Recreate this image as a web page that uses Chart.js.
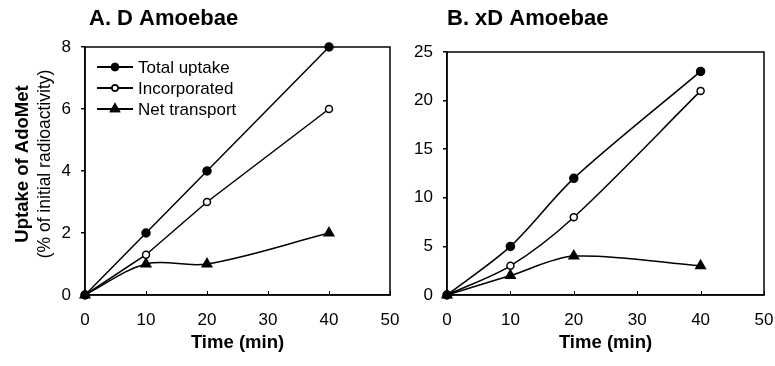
<!DOCTYPE html>
<html>
<head>
<meta charset="utf-8">
<script src="https://cdn.jsdelivr.net/npm/chart.js@4/dist/chart.umd.min.js"></script>
<style>
  body { margin: 0; background: #fff; }
  .wrap { position: relative; width: 775px; height: 366px; }
  canvas { position: absolute; top: 0; }
  #chartA { left: 0; }
  #chartB { left: 400px; }
</style>
</head>
<body>
<div class="wrap">
  <canvas id="chartA" width="410" height="366"></canvas>
  <canvas id="chartB" width="375" height="366"></canvas>
</div>
<script>
// Data
const timeMin = [0, 10, 20, 40];
const seriesNames = ['Total uptake', 'Incorporated', 'Net transport'];

const dTotal = [0, 2, 4, 8];
const dIncorporated = [0, 1.3, 3, 6];
const dNetTransport = [0, 1, 1, 2];

const xdTotal = [0, 5, 12, 23];
const xdIncorporated = [0, 3, 8, 21];
const xdNetTransport = [0, 2, 4, 3];

const FONT = "'Liberation Sans', Arial, sans-serif";

document.addEventListener('DOMContentLoaded', function() {

    function toPoints(values) {
        return timeMin.map((t, i) => ({ x: t, y: values[i] }));
    }

    // marker styles per series
    const markers = [
        { pointStyle: 'circle', radius: 4, bg: '#000' },
        { pointStyle: 'circle', radius: 3.5, bg: '#fff' },
        { pointStyle: 'triangle', radius: 5.5, bg: '#000' }
    ];

    function makeDataset(i, values, tension) {
        return {
            label: seriesNames[i],
            data: toPoints(values),
            borderColor: '#000',
            borderWidth: 1.5,
            backgroundColor: markers[i].bg,
            pointStyle: markers[i].pointStyle,
            pointRadius: markers[i].radius,
            pointBorderWidth: 1.5,
            pointBorderColor: '#000',
            pointBackgroundColor: markers[i].bg,
            tension: tension,
            clip: false
        };
    }

    // draws frame, inner x ticks, panel title, axis titles and (optionally) the legend
    function textPlugin(cfg) {
        return {
            id: 'panelText',
            afterDraw(chart) {
                const ctx = chart.ctx;
                const a = chart.chartArea;
                ctx.save();
                ctx.strokeStyle = '#000';
                ctx.lineWidth = 1.5;
                ctx.strokeRect(a.left, a.top, a.right - a.left, a.bottom - a.top);

                // x tick marks point into the plot
                const xs = chart.scales.x;
                ctx.lineWidth = 1;
                xs.ticks.forEach(t => {
                    const px = Math.round(xs.getPixelForValue(t.value)) + 0.5;
                    ctx.beginPath();
                    ctx.moveTo(px, a.bottom);
                    ctx.lineTo(px, a.bottom - 4);
                    ctx.stroke();
                });

                ctx.fillStyle = '#000';
                ctx.textBaseline = 'middle';
                ctx.textAlign = 'left';
                ctx.font = 'bold 22px ' + FONT;
                ctx.fillText(cfg.title, cfg.titleX, 19);

                ctx.textAlign = 'center';
                ctx.font = 'bold 18.5px ' + FONT;
                ctx.fillText('Time (min)', (a.left + a.right) / 2, 343);

                if (cfg.yTitle) {
                    ctx.save();
                    ctx.translate(23, 164);
                    ctx.rotate(-Math.PI / 2);
                    ctx.font = 'bold 18.5px ' + FONT;
                    ctx.fillText('Uptake of AdoMet', 0, 0);
                    ctx.font = '17.5px ' + FONT;
                    ctx.fillText('(% of initial radioactivity)', 0, 22);
                    ctx.restore();
                }

                if (cfg.legend) {
                    const rows = [67, 88, 109];
                    rows.forEach((y, i) => {
                        ctx.beginPath();
                        ctx.lineWidth = 2;
                        ctx.moveTo(97, y);
                        ctx.lineTo(133, y);
                        ctx.stroke();
                        const m = markers[i];
                        ctx.lineWidth = 1.5;
                        ctx.fillStyle = m.bg;
                        Chart.helpers.drawPoint(ctx, {
                            pointStyle: m.pointStyle,
                            radius: i === 1 ? 3 : (i === 2 ? 5 : 3.5),
                            borderWidth: 1.5
                        }, 115, y);
                        ctx.fill();
                        ctx.stroke();
                        ctx.fillStyle = '#000';
                        ctx.textAlign = 'left';
                        ctx.font = '17px ' + FONT;
                        ctx.fillText(seriesNames[i], 138, y + 1);
                    });
                }
                ctx.restore();
            }
        };
    }

    function makeChart(id, datasets, yMax, yStep, yWidth, padTop, padRight, cfg) {
        const ctx = document.getElementById(id).getContext('2d');
        return new Chart(ctx, {
            type: 'line',
            data: { datasets: datasets },
            options: {
                responsive: false,
                animation: false,
                devicePixelRatio: 1,
                layout: { padding: { top: padTop, right: padRight, left: 0, bottom: 0 } },
                plugins: {
                    legend: { display: false },
                    title: { display: false },
                    tooltip: { enabled: false }
                },
                scales: {
                    x: {
                        type: 'linear',
                        min: 0,
                        max: 50,
                        ticks: { stepSize: 10, color: '#000', font: { family: FONT, size: 17 }, padding: 0, maxRotation: 0 },
                        // transparent tick marks only push the labels down
                        grid: { drawOnChartArea: false, drawTicks: true, tickLength: 15, color: 'rgba(0,0,0,0)' },
                        border: { color: '#000', width: 1.5 },
                        afterFit(axis) { axis.height = 71; }
                    },
                    y: {
                        min: 0,
                        max: yMax,
                        ticks: { stepSize: yStep, color: '#000', font: { family: FONT, size: 17 }, padding: 10 },
                        grid: { drawOnChartArea: false, drawTicks: true, tickLength: 4, color: '#000', lineWidth: 1.5 },
                        border: { color: '#000', width: 1.5 },
                        afterFit(axis) { axis.width = yWidth; }
                    }
                }
            },
            plugins: [textPlugin(cfg)]
        });
    }

    // Panel A: D amoebae
    makeChart('chartA', [
        makeDataset(0, dTotal, 0),
        makeDataset(1, dIncorporated, 0),
        makeDataset(2, dNetTransport, 0.35)
    ], 8, 2, 85, 47, 20, { title: 'A. D Amoebae', titleX: 89, yTitle: true, legend: true });

    // Panel B: xD amoebae
    makeChart('chartB', [
        makeDataset(0, xdTotal, 0.3),
        makeDataset(1, xdIncorporated, 0.3),
        makeDataset(2, xdNetTransport, 0.3)
    ], 25, 5, 47, 52, 11, { title: 'B. xD Amoebae', titleX: 47, yTitle: false, legend: false });
});
</script>
</body>
</html>
